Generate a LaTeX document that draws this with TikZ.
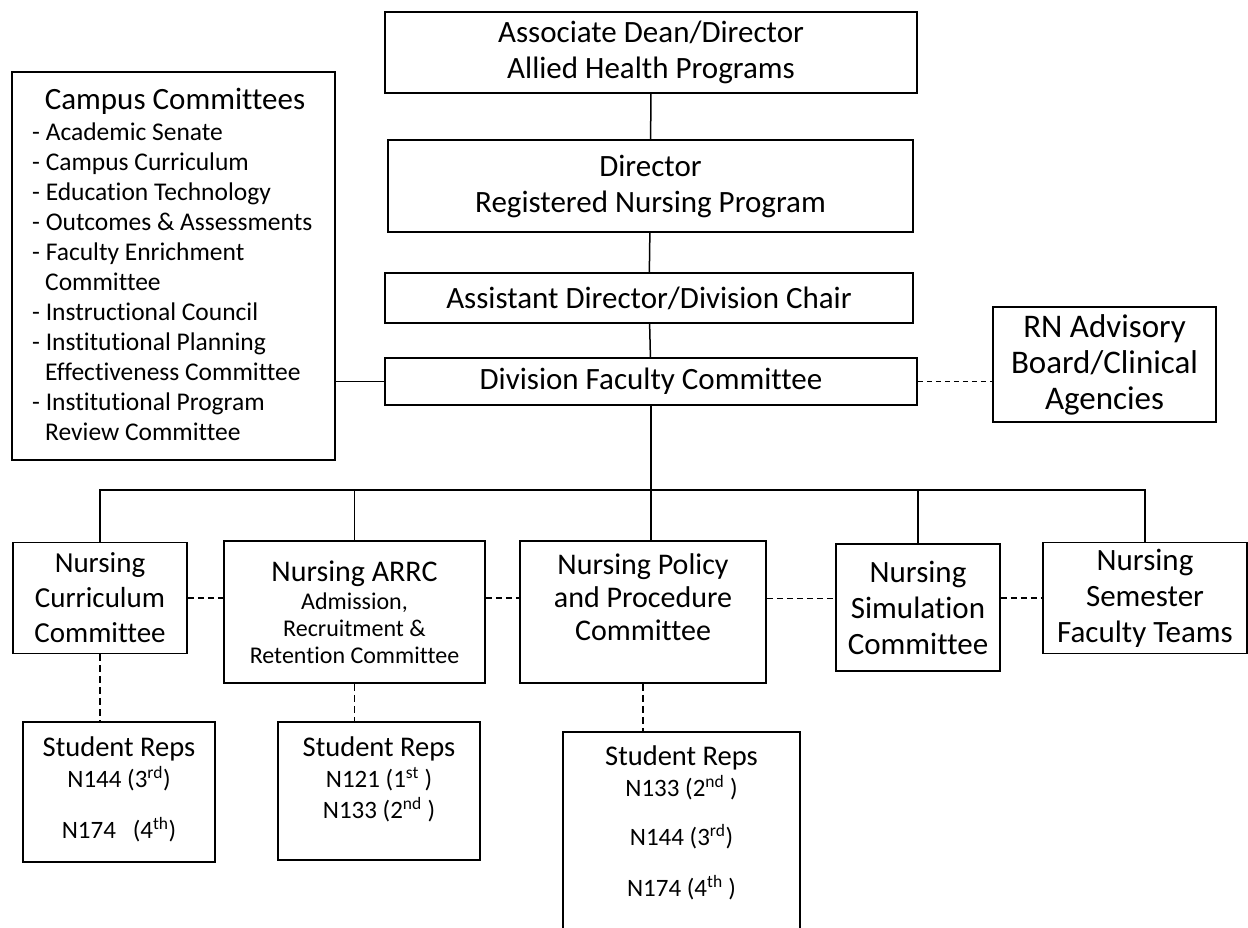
\documentclass[tikz,border=0pt]{standalone}
\usepackage{fontspec}
\setmainfont{Carlito}[Ligatures=NoCommon]
\usetikzlibrary{positioning}
\newcommand\setfs[2]{\fontsize{#1}{#2}\selectfont}
\tikzset{orgbox/.style={draw, line width=1.8pt, inner sep=0pt, align=center,
			font=\setfs{31}{36}},
	thinbox/.style={orgbox, line width=1.1pt},
	link/.style={line width=1.5pt},
	dlink/.style={line width=1.4pt, dash pattern=on 6pt off 4pt},
	reptext/.style={align=center, inner sep=0pt, font=\setfs{25}{31}}}

\begin{document}
\begin{tikzpicture}[x=1pt,y=-1pt]
		\useasboundingbox (0,0) rectangle (1248,927);
		
		% top of the chain
		\node[orgbox, minimum width=532, minimum height=81] (dean) at (651,52.5)
			{Associate Dean/Director\\Allied Health Programs};
		\node[thinbox, minimum width=525, minimum height=92] (director) at (650.5,186)
			{Director\\Registered Nursing Program};
		\node[thinbox, minimum width=528, minimum height=50] (assist) at (649,298)
			{Assistant Director/Division Chair};
		\node[orgbox, minimum width=532, minimum height=47] (faculty) at (651,381.5)
			{Division Faculty Committee};
		
		% side boxes
		\node[orgbox, line width=1.4pt, minimum width=323, minimum height=388] (campus) at (173.5,266) {};
		\node[inner sep=0pt, font=\setfs{31}{36}] (camptitle) at (175,101) {Campus Committees};
		\node[inner sep=0pt, align=left, anchor=north west, font=\setfs{25.5}{30}] (camplist) at (32,123)
			{- Academic Senate\\- Campus Curriculum\\- Education Technology\\- Outcomes \& Assessments\\
			- Faculty Enrichment\\\hspace*{13pt}Committee\\- Instructional Council\\- Institutional Planning\\
			\hspace*{13pt}Effectiveness Committee\\- Institutional Program\\\hspace*{13pt}Review Committee};
		\node[orgbox, minimum width=223, minimum height=115, font=\setfs{33}{36}] (rn) at (1104.5,364.5)
			{RN Advisory\\Board/Clinical\\Agencies};
		
		% committees
		\node[orgbox, minimum width=174, minimum height=111, font=\setfs{29}{35}] (curric) at (100,598)
			{Nursing\\Curriculum\\Committee};
		\node[orgbox, minimum width=261, minimum height=142, font=\setfs{24}{27}] (arrc) at (354.5,612)
			{{\setfs{30}{34}Nursing ARRC}\\[1pt]Admission,\\Recruitment \&\\Retention Committee};
		\node[orgbox, minimum width=246, minimum height=142] (policy) at (643,612) {};
		\node[inner sep=0pt, align=center, font=\setfs{30}{33}, below=13pt of policy.north] (policytxt)
			{Nursing Policy\\and Procedure\\Committee};
		\node[orgbox, minimum width=164, minimum height=127] (simul) at (918,607.5)
			{Nursing\\Simulation\\Committee};
		\node[orgbox, minimum width=204, minimum height=111] (semester) at (1145,598)
			{Nursing\\Semester\\Faculty Teams};
		
		% student reps
		\node[orgbox, minimum width=192, minimum height=140] (sr1) at (119,792) {};
		\node[reptext, below=15pt of sr1.north] (sr1txt)
			{{\setfs{28.5}{31}Student Reps}\\N144 (3\textsuperscript{rd})\\[20pt]N174 \ \ (4\textsuperscript{th})};
		\node[orgbox, minimum width=202, minimum height=138] (sr2) at (379,791) {};
		\node[reptext, below=15pt of sr2.north] (sr2txt)
			{{\setfs{28.5}{31}Student Reps}\\N121 (1\textsuperscript{st} )\\N133 (2\textsuperscript{nd} )};
		\node[orgbox, minimum width=237, minimum height=216] (sr3) at (681.5,840) {};
		\node[reptext, below=14pt of sr3.north] (sr3txt)
			{{\setfs{28.5}{31}Student Reps}\\N133 (2\textsuperscript{nd} )\\[18pt]N144 (3\textsuperscript{rd})\\[20pt]N174 (4\textsuperscript{th} )};
		
		% solid links
		\coordinate (busy) at (0,490);
		\draw[link] (dean) -- (director);
		\draw[link] (director) -- (assist);
		\draw[link] (assist) -- (faculty);
		\draw[link, line width=1.8pt] (faculty) -- (faculty.south |- policy.north);
		\draw[link] (curric.north) |- (semester.north |- busy) -- (semester.north);
		\draw[link] (arrc.north) -- (arrc.north |- busy);
		\draw[link] (simul.north) -- (simul.north |- busy);
		\draw[link, line width=1.2pt] (faculty.west) -- (faculty.west -| campus.east);
		
		% dashed links
		\draw[dlink, line width=1pt, dash pattern=on 5pt off 4pt] (faculty.east) -- (faculty.east -| rn.west);
		\draw[dlink, line width=1.8pt] (curric.east) -- (curric.east -| arrc.west);
		\draw[dlink, line width=1.8pt] (arrc.east |- curric.east) -- (curric.east -| policy.west);
		\draw[dlink, line width=1pt] (policy.east |- curric.east) -- (curric.east -| simul.west);
		\draw[dlink, line width=1.8pt] (simul.east |- curric.east) -- (curric.east -| semester.west);
		\draw[dlink, dash pattern=on 7pt off 4pt] (curric.south) -- (curric.south |- sr1.north);
		\draw[dlink, dash pattern=on 7pt off 4pt] (arrc.south) -- (arrc.south |- sr2.north);
		\draw[dlink, dash pattern=on 7pt off 4pt] (policy.south) -- (policy.south |- sr3.north);
\end{tikzpicture}
\end{document}
